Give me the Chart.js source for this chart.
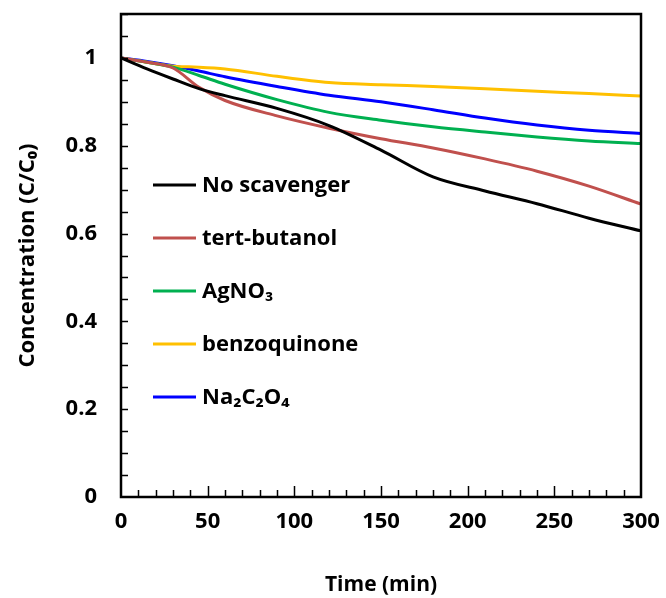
<!DOCTYPE html>
<html>
<head>
<meta charset="utf-8">
<script src="https://cdn.jsdelivr.net/npm/chart.js@4.4.1/dist/chart.umd.min.js"></script>
<style>
  html, body { margin: 0; padding: 0; background: #fff; }
  #wrap { width: 666px; height: 598px; }
</style>
</head>
<body>
<div id="wrap"><canvas id="chart" width="666" height="598"></canvas></div>
<script>
// time points (min)
const times = [0, 15, 30, 45, 60, 90, 120, 150, 180, 210, 240, 270, 300];

// C/C0
const noScavenger  = [1, 0.975, 0.952, 0.930, 0.914, 0.885, 0.846, 0.790, 0.729, 0.697, 0.668, 0.635, 0.606];
const tertButanol  = [1, 0.990, 0.977, 0.933, 0.903, 0.868, 0.840, 0.816, 0.795, 0.770, 0.742, 0.708, 0.667];
const agNO3        = [1, 0.990, 0.979, 0.960, 0.940, 0.905, 0.876, 0.858, 0.843, 0.831, 0.820, 0.811, 0.805];
const benzoquinone = [1, 0.990, 0.981, 0.979, 0.975, 0.958, 0.944, 0.939, 0.935, 0.930, 0.924, 0.919, 0.913];
const na2C2O4      = [1, 0.992, 0.982, 0.970, 0.957, 0.935, 0.915, 0.900, 0.882, 0.863, 0.847, 0.835, 0.828];

const seriesLabels = ['No scavenger', 'tert-butanol', 'AgNO\u2083', 'benzoquinone', 'Na\u2082C\u2082O\u2084'];
const seriesColors = ['#000000', '#C0504D', '#00B050', '#FFC000', '#0000FF'];

const yTicks = [0, 0.2, 0.4, 0.6, 0.8, 1];
const xTicks = [0, 50, 100, 150, 200, 250, 300];

const FONT = "'Open Sans', 'Noto Sans', sans-serif";

function pts(vals) {
    return times.map((t, i) => ({ x: t, y: vals[i] }));
}

// frame + inward tick marks, like the Excel original
const framePlugin = {
    id: 'frame',
    afterDraw(chart) {
        const ctx = chart.ctx;
        const a = chart.chartArea;
        const xs = chart.scales.x;
        const ys = chart.scales.y;
        ctx.save();
        ctx.strokeStyle = '#000';
        ctx.lineWidth = 2.5;
        ctx.strokeRect(a.left, a.top, a.right - a.left, a.bottom - a.top);

        ctx.lineWidth = 1.5;
        ctx.beginPath();
        // y minor ticks every 0.05
        for (let v = 0.05; v < ys.max + 1e-6; v += 0.05) {
            const py = Math.round(ys.getPixelForValue(v)) + 0.5;
            ctx.moveTo(a.left, py);
            ctx.lineTo(a.left + 7, py);
        }
        // x ticks every 10, longer at 50
        for (let t = 10; t < xs.max; t += 10) {
            const px = Math.round(xs.getPixelForValue(t)) + 0.5;
            const len = t % 50 === 0 ? 11 : 7;
            ctx.moveTo(px, a.bottom);
            ctx.lineTo(px, a.bottom - len);
        }
        ctx.stroke();
        ctx.restore();
    }
};

// legend drawn inside the plot area
const legendPlugin = {
    id: 'insideLegend',
    afterDatasetsDraw(chart) {
        const ctx = chart.ctx;
        const a = chart.chartArea;
        ctx.save();
        ctx.font = 'bold 22px ' + FONT;
        ctx.textBaseline = 'middle';
        chart.data.datasets.forEach((ds, i) => {
            const y = 185 + i * 53;
            const x0 = a.left + 32;
            ctx.strokeStyle = ds.borderColor;
            ctx.lineWidth = 3;
            ctx.beginPath();
            ctx.moveTo(x0, y);
            ctx.lineTo(x0 + 43, y);
            ctx.stroke();
            ctx.fillStyle = '#000';
            ctx.fillText(ds.label, x0 + 49, y + 1);
        });
        ctx.restore();
    }
};

const tickFont = { family: FONT, size: 22, weight: 'bold' };

new Chart(document.getElementById('chart'), {
    type: 'line',
    data: {
        datasets: [noScavenger, tertButanol, agNO3, benzoquinone, na2C2O4].map((vals, i) => ({
            label: seriesLabels[i],
            data: pts(vals),
            borderColor: seriesColors[i],
            backgroundColor: seriesColors[i],
            borderWidth: 3,
            pointRadius: 0,
            fill: false,
            cubicInterpolationMode: 'monotone'
        }))
    },
    options: {
        responsive: false,
        animation: false,
        layout: { padding: { top: 14, right: 25, left: 0, bottom: 0 } },
        plugins: {
            legend: { display: false },
            tooltip: { enabled: false }
        },
        scales: {
            x: {
                type: 'linear',
                min: 0,
                max: 300,
                afterFit(scale) { scale.height = 101; },
                afterBuildTicks(scale) { scale.ticks = xTicks.map(v => ({ value: v })); },
                // grid hidden; tickLength only used as the gap to the labels
                grid: { display: false, drawTicks: true, tickLength: 12 },
                border: { display: false },
                ticks: { color: '#000', padding: 0, font: tickFont, callback: v => String(v) },
                title: {
                    display: true,
                    text: 'Time (min)',
                    color: '#000',
                    padding: { top: 0, bottom: 0 },
                    font: { family: FONT, size: 21, weight: 'bold' }
                }
            },
            y: {
                min: 0,
                max: 1.1,
                afterFit(scale) { scale.width = 121; },
                afterBuildTicks(scale) { scale.ticks = yTicks.map(v => ({ value: v })); },
                grid: { display: false, drawTicks: true, tickLength: 24 },
                border: { display: false },
                ticks: { color: '#000', padding: 0, font: tickFont, callback: v => String(v) },
                title: {
                    display: true,
                    text: 'Concentration (C/C\u2080)',
                    color: '#000',
                    padding: { top: 15, bottom: 0 },
                    font: { family: FONT, size: 22, weight: 'bold' }
                }
            }
        }
    },
    plugins: [framePlugin, legendPlugin]
});
</script>
</body>
</html>
